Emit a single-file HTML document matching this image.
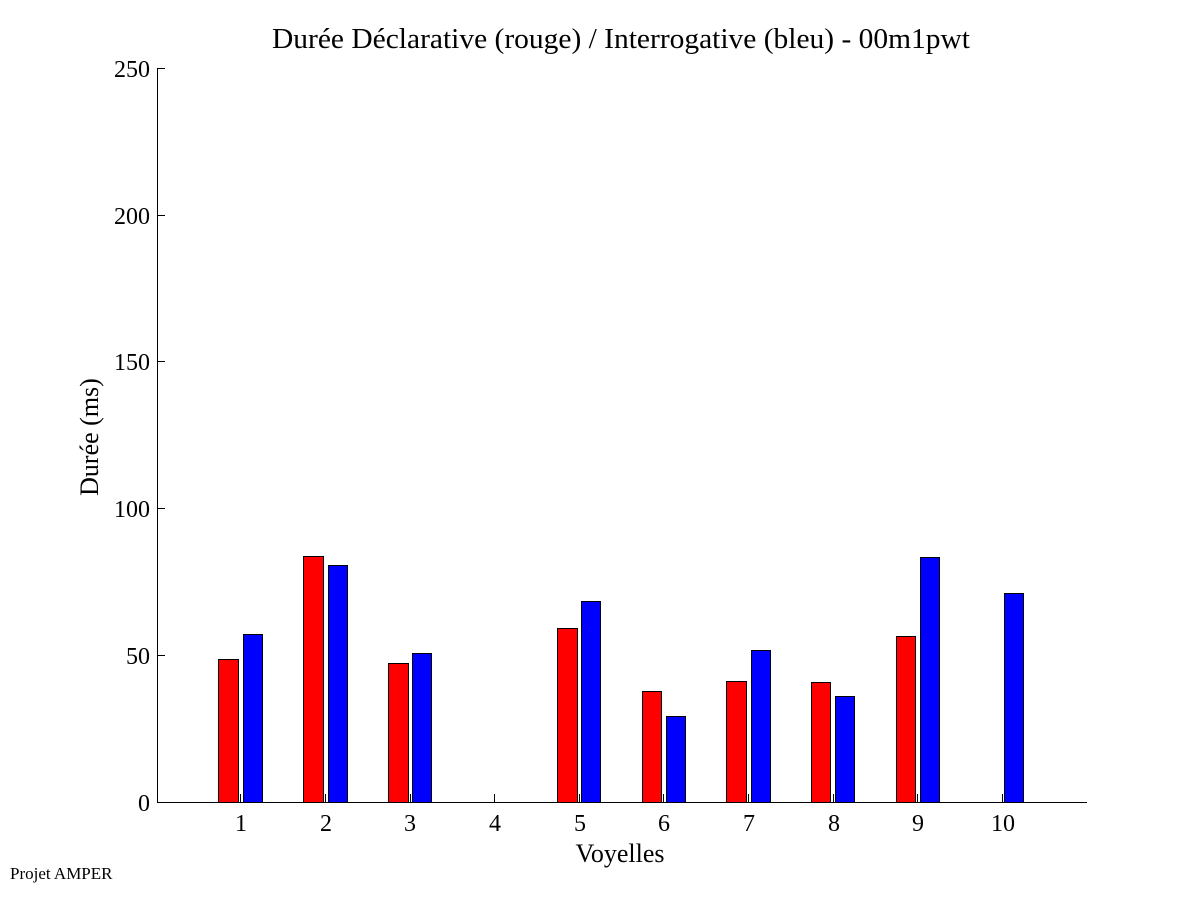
<!DOCTYPE html>
<html><head><meta charset="utf-8"><style>
body{margin:0;background:#fff}
svg text{font-family:"Liberation Serif",serif;fill:#000}
</style></head><body>
<svg width="1201" height="901" viewBox="0 0 1201 901" xmlns="http://www.w3.org/2000/svg">
<rect width="1201" height="901" fill="#fff"/>
<text x="621" y="48" font-size="29" text-anchor="middle" textLength="698" lengthAdjust="spacingAndGlyphs">Durée Déclarative (rouge) / Interrogative (bleu) - 00m1pwt</text>
<g stroke="#000" stroke-width="1" shape-rendering="crispEdges">
<line x1="157.5" y1="68" x2="157.5" y2="802"/>
<line x1="157" y1="802.5" x2="1087" y2="802.5"/>
<line x1="157" y1="68.5" x2="165" y2="68.5"/>
<line x1="157" y1="215.5" x2="165" y2="215.5"/>
<line x1="157" y1="361.5" x2="165" y2="361.5"/>
<line x1="157" y1="508.5" x2="165" y2="508.5"/>
<line x1="157" y1="655.5" x2="165" y2="655.5"/>
</g>
<g font-size="24" text-anchor="end">
<text x="150" y="77">250</text><text x="150" y="224">200</text><text x="150" y="370">150</text><text x="150" y="517">100</text><text x="150" y="664">50</text><text x="150" y="811">0</text>
</g>
<text transform="translate(98,437) rotate(-90)" font-size="26" text-anchor="middle">Durée (ms)</text>
<text x="620" y="862" font-size="26" text-anchor="middle">Voyelles</text>
<text x="10" y="879" font-size="17">Projet AMPER</text>
<g stroke="#000" stroke-width="1" shape-rendering="crispEdges">
<rect x="218.5" y="659.5" width="20" height="143" fill="#f00"/>
<rect x="243.5" y="634.5" width="19" height="168" fill="#00f"/>
<rect x="303.5" y="556.5" width="20" height="246" fill="#f00"/>
<rect x="328.5" y="565.5" width="19" height="237" fill="#00f"/>
<rect x="388.5" y="663.5" width="20" height="139" fill="#f00"/>
<rect x="412.5" y="653.5" width="19" height="149" fill="#00f"/>
<rect x="557.5" y="628.5" width="20" height="174" fill="#f00"/>
<rect x="581.5" y="601.5" width="19" height="201" fill="#00f"/>
<rect x="642.5" y="691.5" width="19" height="111" fill="#f00"/>
<rect x="666.5" y="716.5" width="19" height="86" fill="#00f"/>
<rect x="726.5" y="681.5" width="20" height="121" fill="#f00"/>
<rect x="751.5" y="650.5" width="19" height="152" fill="#00f"/>
<rect x="811.5" y="682.5" width="19" height="120" fill="#f00"/>
<rect x="835.5" y="696.5" width="19" height="106" fill="#00f"/>
<rect x="896.5" y="636.5" width="19" height="166" fill="#f00"/>
<rect x="920.5" y="557.5" width="19" height="245" fill="#00f"/>
<rect x="1004.5" y="593.5" width="19" height="209" fill="#00f"/>
<line x1="240.5" y1="794" x2="240.5" y2="802"/>
<line x1="325.5" y1="794" x2="325.5" y2="802"/>
<line x1="410.5" y1="794" x2="410.5" y2="802"/>
<line x1="494.5" y1="794" x2="494.5" y2="802"/>
<line x1="579.5" y1="794" x2="579.5" y2="802"/>
<line x1="663.5" y1="794" x2="663.5" y2="802"/>
<line x1="748.5" y1="794" x2="748.5" y2="802"/>
<line x1="833.5" y1="794" x2="833.5" y2="802"/>
<line x1="917.5" y1="794" x2="917.5" y2="802"/>
<line x1="1002.5" y1="794" x2="1002.5" y2="802"/>
</g>
<g font-size="24" text-anchor="middle">
<text x="241" y="831">1</text><text x="326" y="831">2</text><text x="410" y="831">3</text><text x="495" y="831">4</text><text x="580" y="831">5</text><text x="664" y="831">6</text><text x="749" y="831">7</text><text x="834" y="831">8</text><text x="918" y="831">9</text><text x="1003" y="831">10</text>
</g>
</svg>
</body></html>
